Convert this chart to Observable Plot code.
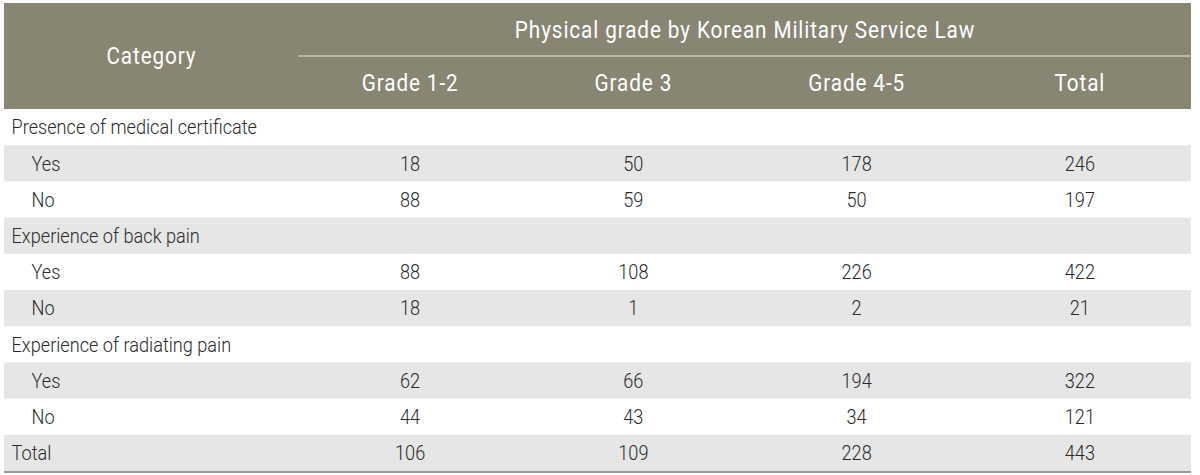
<!DOCTYPE html>
<html>
<head>
<meta charset="utf-8">
<script src="https://cdn.jsdelivr.net/npm/d3@7"></script>
<script src="https://cdn.jsdelivr.net/npm/@observablehq/plot@0.6"></script>
<style>
  html, body { margin: 0; padding: 0; background: #fff; }
  #chart svg { display: block; }
</style>
</head>
<body>
<div id="chart"></div>
<script>
// ---- data ----
const stubHeader = "Category";
const spannerLabel = "Physical grade by Korean Military Service Law";
const columns = ["Grade 1-2", "Grade 3", "Grade 4-5", "Total"];
const rowLabels = ["Presence of medical certificate", "Yes", "No",
                   "Experience of back pain", "Yes", "No",
                   "Experience of radiating pain", "Yes", "No", "Total"];
const rowIndent = [0, 1, 1, 0, 1, 1, 0, 1, 1, 0];
const grade12 = [null, 18, 88, null, 88, 18, null, 62, 44, 106];
const grade3  = [null, 50, 59, null, 108, 1, null, 66, 43, 109];
const grade45 = [null, 178, 50, null, 226, 2, null, 194, 34, 228];
const totals  = [null, 246, 197, null, 422, 21, null, 322, 121, 443];
const series = [grade12, grade3, grade45, totals];

// ---- layout ----
const W = 1200, H = 475;
const left = 4, right = 1191, stubW = 294;
const headTop = 3, headMid = 55.5, headBot = 109, rowH = 36.2;
const colW = (right - left - stubW) / columns.length;
const colX = i => left + stubW + colW * i;
const rowY = i => headBot + rowH * i;

const headerColor = "#888573";
const stripe = "#e6e6e6";
const ink = "#2a2a2a";
const font = "Roboto, 'Liberation Sans', sans-serif";
const bodySX = 0.865, headSX = 0.9;

const rows = rowLabels.map((label, i) => ({label, i, indent: rowIndent[i]}));
const cells = [];
rows.forEach(r => series.forEach((s, c) => {
  if (s[r.i] != null) cells.push({i: r.i, c, v: s[r.i]});
}));
const colHeads = columns.map((name, c) => ({name, c}));

const plot = Plot.plot({
  width: W, height: H,
  margin: 0,
  x: {domain: [0, W], range: [0, W], axis: null},
  y: {domain: [0, H], range: [0, H], axis: null},
  style: {fontFamily: font, background: "#fff"},
  marks: [
    Plot.rect([0], {x1: left, x2: right, y1: headTop, y2: headBot, fill: headerColor}),
    Plot.ruleY([headMid], {x1: left + stubW, x2: right, stroke: "#c8c6b9", strokeWidth: 1.5}),
    Plot.rect(rows.filter(r => r.i % 2 === 1), {
      x1: left, x2: right, y1: r => rowY(r.i), y2: r => rowY(r.i + 1), fill: stripe
    }),
    Plot.ruleY([rowY(rows.length) + 0.5], {x1: left, x2: right, stroke: "#9b9b9b", strokeWidth: 2}),
    Plot.text([stubHeader], {
      x: left + stubW / 2, y: (headTop + headBot) / 2, text: d => d,
      fill: "#fff", fontSize: 23, textAnchor: "middle", lineAnchor: "middle"
    }),
    Plot.text([spannerLabel], {
      x: (left + stubW + right) / 2, y: (headTop + headMid) / 2 + 0.5, text: d => d,
      fill: "#fff", fontSize: 23, textAnchor: "middle", lineAnchor: "middle"
    }),
    Plot.text(colHeads, {
      x: d => colX(d.c) + colW / 2, y: (headMid + headBot) / 2 + 0.5, text: "name",
      fill: "#fff", fontSize: 23, textAnchor: "middle", lineAnchor: "middle"
    }),
    Plot.text(rows, {
      x: d => left + 7 + d.indent * 20, y: d => rowY(d.i) + rowH / 2, text: "label",
      fill: ink, fontSize: 21, fontWeight: 300, textAnchor: "start", lineAnchor: "middle"
    }),
    Plot.text(cells, {
      x: d => colX(d.c) + colW / 2, y: d => rowY(d.i) + rowH / 2, text: d => String(d.v),
      fill: ink, fontSize: 21, fontWeight: 300, textAnchor: "middle", lineAnchor: "middle"
    })
  ]
});

// condense glyphs horizontally around each text's anchor
plot.querySelectorAll("text").forEach(t => {
  const g = t.closest("g");
  const isHead = (g && g.getAttribute("fill") === "#fff") || t.getAttribute("fill") === "#fff";
  const sx = isHead ? headSX : bodySX;
  if (isHead) t.style.letterSpacing = "1px";
  const xa = t.getAttribute("x");
  let dx = 0;
  if (xa != null && /^-?[\d.]+$/.test(xa.trim())) { dx = +xa; t.removeAttribute("x"); }
  const tr = t.getAttribute("transform") || "";
  t.setAttribute("transform", `${tr} translate(${dx},0) scale(${sx},1)`);
});
document.getElementById("chart").append(plot);
</script>
</body>
</html>
